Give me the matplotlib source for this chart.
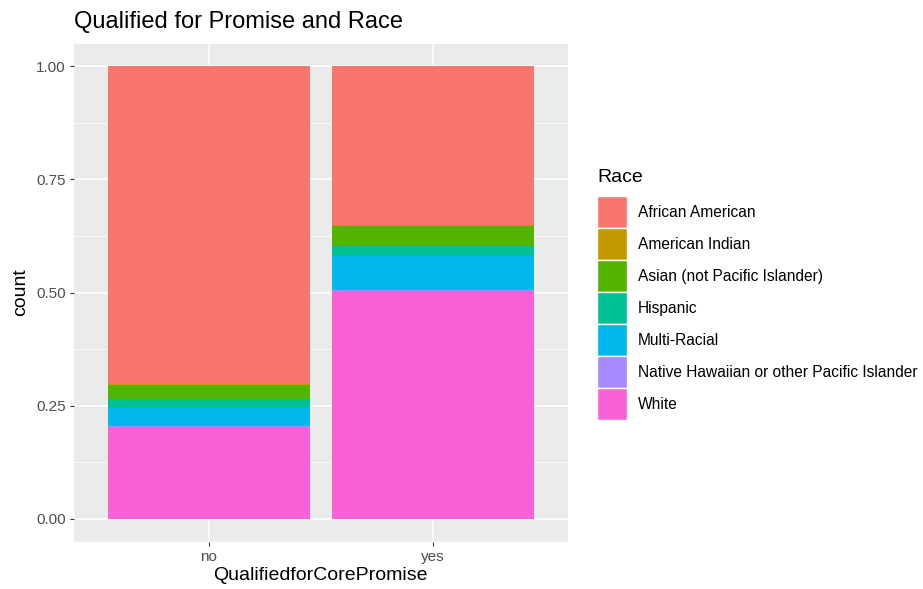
# Stacked proportion bar chart, ggplot2 look
import matplotlib.pyplot as plt
from matplotlib.patches import Patch
import numpy as np

plt.rcParams['font.family'] = ['Liberation Sans', 'DejaVu Sans']

# data
groups = ['no', 'yes']
races = ['African American', 'American Indian', 'Asian (not Pacific Islander)',
         'Hispanic', 'Multi-Racial', 'Native Hawaiian or other Pacific Islander', 'White']
colors = ['#F8766D', '#C49A00', '#53B400', '#00C094', '#00B6EB', '#A58AFF', '#FB61D7']
african_american = [0.701, 0.350]
american_indian = [0.004, 0.002]
asian = [0.030, 0.045]
hispanic = [0.021, 0.022]
multi_racial = [0.039, 0.076]
native_hawaiian = [0.001, 0.001]
white = [0.204, 0.504]
shares = [african_american, american_indian, asian, hispanic,
          multi_racial, native_hawaiian, white]
yticks = [0.0, 0.25, 0.5, 0.75, 1.0]
ytick_labels = ['0.00', '0.25', '0.50', '0.75', '1.00']

fig = plt.figure(figsize=(9.23, 5.89), dpi=100)
ax = fig.add_axes([0.080, 0.0805, 0.535, 0.8455])
ax.set_facecolor('#EBEBEB')

x = np.arange(1, len(groups) + 1)
bottom = np.zeros(len(groups))
# ggplot stacks the last level at the bottom
for i in range(len(races) - 1, -1, -1):
    vals = np.array(shares[i])
    ax.bar(x, vals, width=0.9, bottom=bottom, color=colors[i], linewidth=0, zorder=3)
    bottom += vals

ax.set_xlim(0.4, 2.6)
ax.set_ylim(-0.05, 1.05)
ax.set_xticks(x)
ax.set_xticklabels(groups)
ax.set_yticks(yticks)
ax.set_yticklabels(ytick_labels)
ax.set_yticks([0.125, 0.375, 0.625, 0.875], minor=True)
ax.grid(True, which='major', color='white', linewidth=1.1, zorder=0)
ax.grid(True, which='minor', axis='y', color='white', linewidth=0.55, zorder=0)
ax.tick_params(which='major', length=3, color='#333333', labelcolor='#4D4D4D',
               labelsize=11, pad=3)
ax.tick_params(which='minor', length=0)
for s in ax.spines.values():
    s.set_visible(False)
ax.set_axisbelow(True)

ax.set_xlabel('QualifiedforCorePromise', fontsize=14, labelpad=2)
ax.set_ylabel('count', fontsize=14, labelpad=5)
ax.set_title('Qualified for Promise and Race', fontsize=17, loc='left', pad=11, x=0.0)

handles = [Patch(facecolor=c, edgecolor='white', linewidth=1) for c in colors]
leg = fig.legend(handles, races, loc='center left', bbox_to_anchor=(0.647, 0.5),
                 frameon=False, fontsize=11.2, title='Race', title_fontsize=14,
                 handlelength=1.93, handleheight=2.79, labelspacing=0.0,
                 handletextpad=0.7, borderpad=0, borderaxespad=0)
leg._legend_box.align = 'left'
leg._legend_box.sep = 7.5  # gap between the title and the keys

fig.savefig('out.png', dpi=100)
